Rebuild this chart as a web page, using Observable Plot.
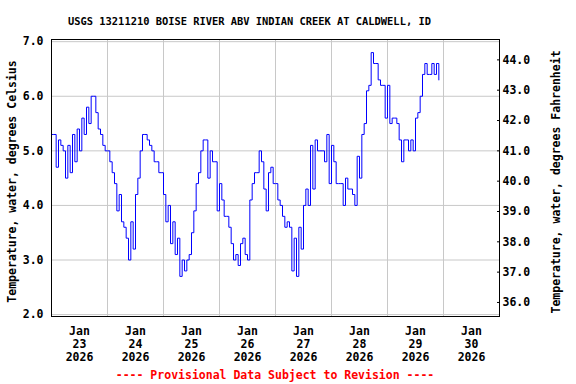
<!DOCTYPE html>
<html><head><meta charset="utf-8">
<script src="https://cdn.jsdelivr.net/npm/d3@7"></script>
<script src="https://cdn.jsdelivr.net/npm/@observablehq/plot@0.6"></script>
<style>html,body{margin:0;padding:0;background:#fff} #chart svg{display:block}</style>
</head><body><div id="chart"></div>
<script>
const titleText = "USGS 13211210 BOISE RIVER ABV INDIAN CREEK AT CALDWELL, ID";
const footerText = "---- Provisional Data Subject to Revision ----";
const leftTitle = "Temperature, water, degrees Celsius";
const rightTitle = "Temperature, water, degrees Fahrenheit";
const startDay = [2026, 0, 23];            // first hour of series: Jan 23 2026 00:00
const dayLabels = [23, 24, 25, 26, 27, 28, 29, 30];
const celsiusTicks = [2, 3, 4, 5, 6, 7];
const fahrenheitTicks = [36, 37, 38, 39, 40, 41, 42, 43, 44];
// hourly water temperature readings, degrees Celsius, from Jan 23 00:00
const hourlyTemp = [
  5.3,5.3,4.7,5.2,5.1,5.0,4.5,5.1,4.6,5.3,4.8,5.4,5.0,5.6,5.3,5.8,5.5,6.0,6.0,5.7,5.4,5.3,5.1,5.0,
  5.0,4.8,4.6,4.4,3.9,4.2,3.7,3.6,3.4,3.0,3.7,3.2,4.2,4.5,5.0,5.3,5.3,5.2,5.1,5.0,4.8,4.8,4.6,4.6,
  4.2,3.7,4.0,3.3,3.7,3.1,3.4,2.7,3.0,2.8,3.0,3.1,3.5,3.9,4.4,4.6,5.0,5.2,5.2,4.5,5.0,4.8,4.8,3.9,
  4.4,4.1,3.8,3.8,3.6,3.3,3.0,3.1,2.9,3.3,3.4,3.1,3.0,4.1,4.4,4.6,4.6,5.0,4.8,4.3,3.9,4.6,4.7,4.4,
  4.4,4.1,4.0,3.8,3.6,3.7,3.6,2.8,3.4,2.7,3.6,3.2,4.0,4.3,4.0,5.1,4.3,5.2,5.0,5.0,5.0,4.8,5.3,4.4,
  5.1,4.8,4.4,4.4,4.4,4.0,4.5,4.3,4.3,4.2,4.0,4.9,4.5,5.3,5.5,6.1,6.2,6.8,6.6,6.6,6.3,6.2,6.2,5.6,
  6.2,5.5,5.6,5.6,5.5,5.2,4.8,5.2,5.2,5.0,5.2,5.0,5.6,5.7,6.0,6.4,6.6,6.4,6.4,6.6,6.4,6.6,6.3
];

const t0 = Date.UTC(startDay[0], startDay[1], startDay[2]);
const HOUR = 3600e3;
const series = hourlyTemp.map((v, i) => ({date: new Date(t0 + i * HOUR), temp: v}));
const dayStart = d => new Date(Date.UTC(2026, 0, d));
const noonDates = dayLabels.map(d => new Date(Date.UTC(2026, 0, d, 12)));
const midnights = dayLabels.slice(1).map(dayStart);
const fToC = f => (f - 32) / 1.8;

const font = "'DejaVu Sans Mono', monospace";
const grid = "#c8c8c8";

const chart = Plot.plot({
  width: 576,
  height: 384,
  marginLeft: 51,
  marginRight: 77,
  marginTop: 39,
  marginBottom: 68,
  style: {fontFamily: font, fontSize: "11.5px", fontWeight: "bold", background: "#fff", color: "#000"},
  x: {type: "utc", domain: [dayStart(23), dayStart(31)]},
  y: {domain: [1.965, 7.04]},
  marks: [
    Plot.ruleY(celsiusTicks, {stroke: grid, strokeWidth: 1}),
    Plot.ruleX(midnights, {stroke: grid, strokeWidth: 1}),
    Plot.line(series, {x: "date", y: "temp", stroke: "#0000ff", strokeWidth: 1, curve: "step-after"}),
    Plot.frame({stroke: "#000", strokeWidth: 1}),
    Plot.axisY(celsiusTicks, {anchor: "left", tickSize: 0, tickPadding: 8, tickFormat: d => d.toFixed(1), label: null}),
    Plot.axisY(fahrenheitTicks.map(fToC), {anchor: "right", tickSize: -3, tickPadding: 6, tickFormat: c => (c * 1.8 + 32).toFixed(1), label: null}),
    Plot.axisX(noonDates, {anchor: "bottom", tickSize: 0, tickPadding: 9, lineHeight: 1.13, tickFormat: d => `Jan\n${d.getUTCDate()}\n2026`, label: null}),
    Plot.text([titleText], {frameAnchor: "top-left", textAnchor: "middle", dx: 198, dy: -22, fontSize: 10.4, text: d => d}),
    Plot.text([footerText], {frameAnchor: "bottom-left", textAnchor: "middle", dx: 223.5, dy: 62, fill: "#ff0000", text: d => d}),
    Plot.text([leftTitle], {frameAnchor: "left", textAnchor: "middle", dx: -39, dy: 3.5, rotate: -90, text: d => d}),
    Plot.text([rightTitle], {frameAnchor: "right", textAnchor: "middle", dx: 57, dy: 4, rotate: -90, text: d => d})
  ]
});
document.getElementById("chart").appendChild(chart);
</script>
</body></html>
